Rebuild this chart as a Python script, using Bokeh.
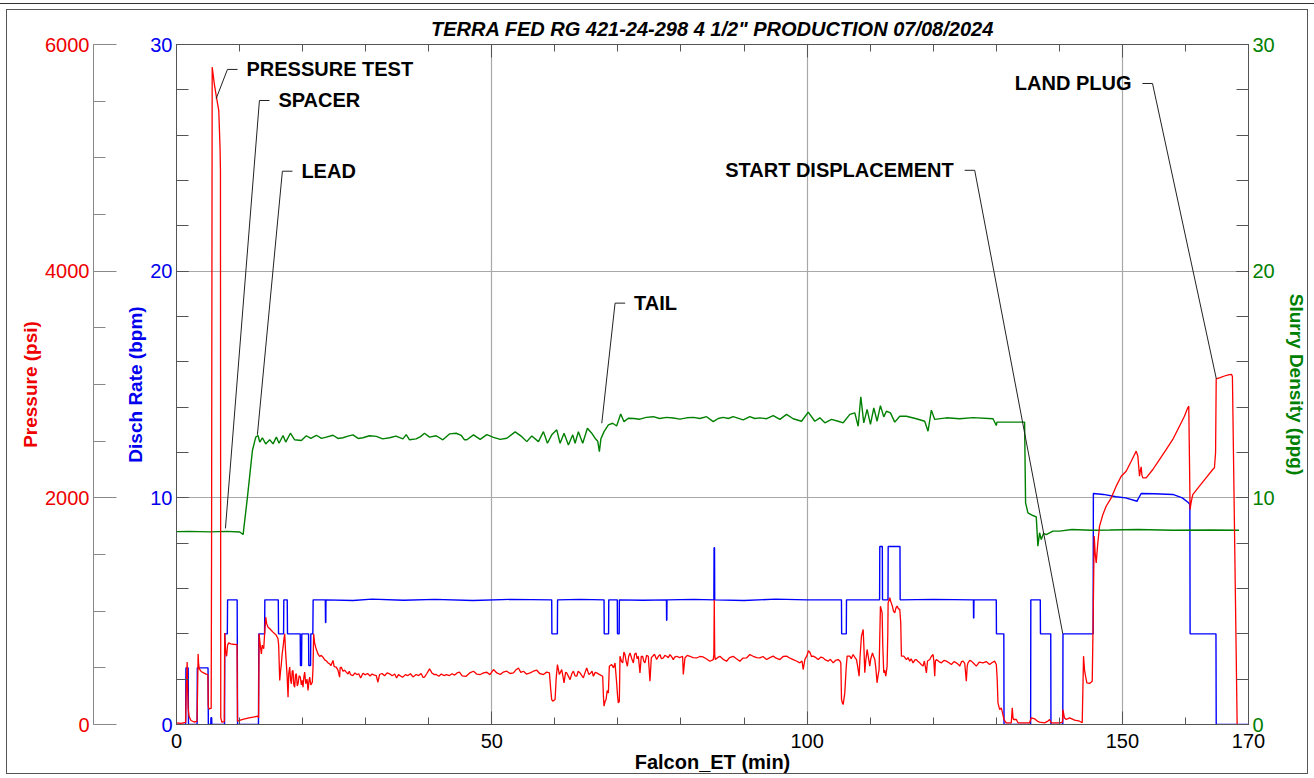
from bokeh.plotting import figure
from bokeh.models import LinearAxis, Range1d, FixedTicker
from bokeh.core.properties import value
from bokeh.embed import file_html
from bokeh.resources import INLINE

FONT = "Liberation Sans"
RED = "#ee0000"
BLUE = "#0000ee"
GREEN = "#008000"

TITLE = 'TERRA FED RG 421-24-298 4 1/2" PRODUCTION 07/08/2024'

# ---------------- data ----------------
# Pressure (psi) vs Falcon_ET (min)
PRESSURE = [
    (0.0, 15), (0.7, 10), (1.45, 18), (1.55, 320), (1.69, 552), (1.76, 330), (1.85, 140), (2.0, 70),
    (2.3, 35), (2.8, 22), (3.25, 28), (3.33, 260), (3.43, 623), (3.5, 540), (3.62, 490), (3.9, 468),
    (4.3, 455), (4.7, 445), (4.98, 440), (5.04, 160), (5.15, 138), (5.5, 142), (5.56, 1500),
    (5.66, 5800), (6.0, 5650), (6.34, 5533), (6.7, 5419), (6.9, 5100), (6.97, 4890), (7.02, 60),
    (7.2, 20), (7.58, 25), (7.64, 808), (7.8, 640), (7.95, 602), (8.1, 700), (8.29, 720), (8.6, 712),
    (9.0, 708), (9.6, 705), (9.68, 29), (10.5, 45), (11.5, 58), (12.9, 73), (13.02, 60),
    (13.1, 800), (13.3, 690), (13.46, 623), (13.6, 700), (13.83, 668), (14.0, 820), (14.15, 947),
    (14.3, 890), (14.52, 859), (14.8, 845), (15.05, 829), (15.3, 815), (15.58, 800), (15.8, 790),
    (16.1, 756), (16.2, 700), (16.37, 388), (16.5, 470), (16.63, 535), (16.75, 620), (16.9, 682),
    (17.05, 760), (17.16, 800), (17.3, 640), (17.42, 535), (17.55, 420), (17.69, 241), (17.8, 450),
    (17.95, 506), (18.1, 390), (18.22, 359), (18.35, 470), (18.48, 476), (18.6, 350), (18.74, 329),
    (18.88, 440), (19.01, 447), (19.15, 340), (19.27, 359), (19.45, 430), (19.64, 418), (19.8, 350),
    (19.95, 390), (20.06, 329), (20.2, 420), (20.33, 462), (20.5, 360), (20.7, 400), (20.86, 300),
    (21.0, 380), (21.12, 418), (21.3, 350), (21.54, 373), (21.65, 500), (21.75, 800), (21.9, 720),
    (22.07, 682), (22.25, 650), (22.44, 623), (22.7, 600), (22.95, 610), (23.23, 594), (23.5, 570),
    (23.8, 560), (24.0, 545), (24.29, 535), (24.5, 520), (24.82, 565), (25.0, 510), (25.34, 506),
    (25.6, 480), (25.87, 418), (25.95, 500), (26.14, 506), (26.4, 470), (26.65, 480), (26.93, 462),
    (27.2, 445), (27.4, 470), (27.6, 440), (27.98, 432), (28.3, 455), (28.6, 440), (28.9, 448),
    (29.2, 410), (29.57, 453), (29.9, 438), (30.3, 450), (30.7, 428), (31.0, 445), (31.4, 436),
    (31.68, 432), (31.94, 373), (32.2, 441), (32.6, 450), (33.0, 430), (33.4, 455), (33.79, 447),
    (34.2, 430), (34.6, 445), (34.9, 410), (35.2, 440), (35.6, 425), (35.9, 418), (36.3, 440),
    (36.7, 432), (37.1, 448), (37.5, 420), (38.01, 441), (38.4, 432), (38.8, 450), (39.1, 415),
    (39.33, 418), (39.7, 450), (40.13, 491), (40.5, 455), (40.9, 440), (41.18, 441), (41.6, 425),
    (42.0, 445), (42.4, 432), (42.8, 440), (43.29, 432), (43.7, 448), (44.1, 436), (44.5, 455),
    (44.88, 462), (45.3, 430), (45.93, 424), (46.05, 432), (46.5, 455), (47.1, 470), (47.6, 445),
    (48.16, 441), (48.7, 455), (49.21, 461), (49.7, 440), (50.27, 485), (50.8, 455), (51.33, 441),
    (51.8, 462), (52.38, 470), (52.9, 450), (53.44, 455), (53.8, 480), (54.23, 499), (54.6, 460),
    (55.02, 470), (55.5, 445), (56.08, 455), (56.6, 470), (57.13, 479), (57.6, 450), (58.19, 441),
    (58.7, 462), (59.14, 455), (59.35, 308), (59.5, 220), (59.67, 206), (60.04, 220), (60.2, 400),
    (60.41, 529), (60.72, 441), (61.09, 485), (61.3, 420), (61.46, 367), (61.7, 460), (61.89, 455),
    (62.2, 420), (62.41, 396), (62.7, 450), (62.94, 470), (63.2, 430), (63.47, 426), (63.7, 470),
    (64.0, 455), (64.3, 430), (64.52, 411), (64.8, 460), (65.05, 499), (65.4, 440), (65.69, 455),
    (65.9, 470), (66.11, 426), (66.4, 460), (66.64, 455), (67.1, 440), (67.59, 426), (67.7, 250),
    (67.8, 162), (67.95, 200), (68.12, 220), (68.3, 300), (68.49, 279), (68.64, 514), (69.01, 529),
    (69.3, 500), (69.54, 543), (69.8, 367), (69.95, 250), (70.07, 191), (70.23, 206), (70.33, 602),
    (70.55, 560), (70.76, 543), (70.95, 640), (71.12, 617), (71.3, 560), (71.5, 514), (71.7, 600),
    (71.92, 631), (72.2, 580), (72.45, 543), (72.65, 620), (72.87, 631), (73.05, 580), (73.24, 602),
    (73.5, 455), (73.7, 600), (73.92, 602), (74.1, 560), (74.29, 543), (74.55, 610), (74.82, 602),
    (75.08, 382), (75.3, 590), (75.51, 602), (75.8, 620), (76.14, 573), (76.4, 600), (76.67, 617),
    (76.9, 580), (77.2, 587), (77.45, 610), (77.72, 602), (78.0, 590), (78.25, 617), (78.5, 600),
    (78.78, 573), (79.0, 595), (79.31, 602), (79.8, 590), (80.26, 602), (80.37, 441), (80.63, 587),
    (81.0, 610), (81.42, 602), (81.9, 590), (82.48, 587), (83.0, 600), (83.53, 596), (84.0, 580),
    (84.59, 558), (85.12, 573), (85.22, 620), (85.28, 1101), (85.35, 620), (85.43, 573), (85.8, 590),
    (86.17, 602), (86.7, 575), (87.23, 558), (87.7, 590), (88.28, 602), (88.8, 580), (89.34, 558),
    (89.8, 585), (90.4, 587), (90.92, 617), (91.45, 602), (92.0, 590), (92.52, 588), (93.0, 600),
    (93.58, 573), (94.1, 590), (94.63, 603), (95.1, 585), (95.69, 573), (96.2, 600), (96.74, 603),
    (97.3, 585), (97.8, 573), (98.3, 560), (98.86, 544), (99.2, 560), (99.38, 485), (99.65, 573),
    (100.0, 610), (100.2, 650), (100.44, 638), (100.7, 600), (100.97, 603), (101.4, 590),
    (101.76, 573), (102.2, 595), (102.55, 588), (102.9, 570), (103.34, 559), (103.7, 575),
    (104.14, 544), (104.5, 565), (104.93, 573), (105.2, 560), (105.35, 544), (105.46, 221),
    (105.6, 190), (105.72, 176), (105.98, 279), (106.2, 500), (106.35, 603), (106.78, 603),
    (107.0, 580), (107.3, 618), (107.6, 590), (107.83, 573), (108.0, 520), (108.25, 426),
    (108.4, 600), (108.62, 779), (108.89, 838), (109.0, 700), (109.15, 456), (109.3, 560),
    (109.52, 662), (109.7, 600), (109.94, 515), (110.1, 580), (110.37, 632), (110.55, 600),
    (110.74, 573), (110.9, 500), (111.1, 368), (111.25, 430), (111.42, 485), (111.5, 700),
    (111.63, 1044), (111.9, 985), (112.0, 700), (112.16, 456), (112.3, 480), (112.48, 426),
    (112.69, 515), (112.8, 800), (112.85, 1073), (113.11, 1118), (113.3, 1080), (113.53, 1044),
    (113.7, 1000), (113.9, 985), (114.1, 1030), (114.27, 1044), (114.5, 1020), (114.7, 1015),
    (114.85, 900), (114.96, 603), (115.33, 603), (115.75, 573), (116.0, 590), (116.28, 559),
    (116.5, 580), (116.81, 544), (117.1, 570), (117.33, 573), (117.6, 555), (117.86, 544),
    (118.1, 530), (118.39, 515), (118.6, 560), (118.92, 456), (119.1, 560), (119.45, 573),
    (119.7, 600), (119.98, 618), (120.1, 560), (120.24, 426), (120.35, 560), (120.5, 573),
    (120.9, 555), (121.3, 544), (121.7, 565), (122.09, 559), (122.5, 545), (122.88, 529),
    (123.3, 555), (123.67, 544), (124.0, 530), (124.2, 515), (124.5, 555), (124.73, 559),
    (125.0, 540), (125.25, 382), (125.4, 520), (125.52, 544), (125.8, 565), (126.05, 559),
    (126.4, 540), (126.84, 515), (127.3, 550), (127.9, 544), (128.4, 555), (128.95, 529),
    (129.3, 545), (129.74, 559), (130.01, 529), (130.15, 400), (130.27, 191), (130.54, 132),
    (130.8, 147), (131.0, 100), (131.22, 44), (131.59, 15), (132.38, 15), (132.54, 147),
    (132.65, 60), (132.75, 44), (133.18, 44), (133.44, 15), (135.29, 15), (135.55, 59),
    (136.08, 50), (136.5, 30), (136.87, 21), (137.66, 15), (138.2, 30), (138.45, 44), (138.72, 15),
    (140.04, 15), (140.5, 20), (140.57, 132), (140.8, 60), (141.1, 44), (141.63, 59), (142.42, 38),
    (143.21, 29), (143.63, 15), (143.84, 603), (144.0, 480), (144.16, 426), (144.37, 368),
    (144.8, 362), (145.22, 382), (145.38, 985), (145.53, 1662), (145.7, 1500), (145.85, 1426),
    (146.1, 1600), (146.38, 1750), (146.91, 1853), (147.43, 1926), (148.23, 2000), (149.02, 2103),
    (149.81, 2191), (150.6, 2235), (151.4, 2323), (152.19, 2412), (152.45, 2368), (152.72, 2191),
    (152.85, 2240), (152.98, 2273), (153.1, 2200), (153.24, 2176), (153.77, 2176), (154.83, 2250),
    (155.88, 2338), (156.94, 2426), (157.99, 2515), (159.05, 2632), (159.84, 2720), (160.37, 2794),
    (160.53, 2809), (160.74, 1897), (160.9, 1960), (161.16, 2029), (162.22, 2103), (163.27, 2176),
    (164.33, 2250), (164.6, 2265), (164.78, 2400), (164.88, 3050), (165.5, 3060), (166.2, 3075),
    (166.8, 3085), (167.3, 3090), (167.45, 3070), (168.2, 0),
]

# Disch Rate (bpm) vs Falcon_ET (min)
RATE = [
    (0, 0), (1.45, 0), (1.5, 2.5), (1.85, 2.5), (1.9, 0), (3.27, 0), (3.3, 2.5), (5.0, 2.5), (5.05, 0),
    (5.44, 0), (5.46, 0.3), (5.58, 0.3), (5.6, 0), (7.62, 0), (7.66, 4.0), (8.06, 4.0), (8.1, 5.5),
    (9.62, 5.5), (9.68, 0), (13.0, 0), (13.06, 4.0), (13.97, 4.0), (14.01, 5.5), (16.14, 5.5),
    (16.18, 4.0), (16.98, 4.0), (17.02, 5.5), (17.56, 5.5), (17.6, 4.0), (19.62, 4.0), (19.66, 2.6),
    (19.83, 2.6), (19.87, 4.0), (20.94, 4.0), (20.98, 2.6), (21.26, 2.6), (21.3, 4.0), (21.62, 4.0),
    (21.67, 5.5), (23.6, 5.5), (23.63, 4.5), (23.68, 4.5), (23.7, 5.5), (28.0, 5.47), (31.0, 5.53),
    (36.0, 5.48), (41.0, 5.52), (47.0, 5.47), (53.0, 5.52), (59.5, 5.5), (59.53, 4.0), (60.4, 4.0),
    (60.43, 5.5), (64.0, 5.52), (67.8, 5.5), (67.83, 4.0), (68.52, 4.0), (68.55, 5.5), (69.9, 5.5),
    (69.93, 4.0), (70.2, 4.0), (70.23, 5.5), (74.0, 5.48), (77.7, 5.5), (77.72, 4.6), (77.76, 4.6),
    (77.78, 5.5), (82.0, 5.52), (85.22, 5.5), (85.25, 7.8), (85.32, 7.8), (85.35, 5.5), (90.0, 5.47),
    (95.0, 5.53), (100.0, 5.5), (105.45, 5.5), (105.48, 4.0), (106.22, 4.0), (106.25, 5.5),
    (111.5, 5.5), (111.53, 7.85), (111.93, 7.85), (111.96, 5.5), (112.83, 5.5), (112.86, 7.85),
    (114.73, 7.85), (114.76, 5.5), (120.0, 5.52), (126.38, 5.5), (126.4, 4.7), (126.44, 4.7),
    (126.46, 5.5), (130.0, 5.5), (130.03, 4.0), (131.2, 4.0), (131.23, 0), (135.45, 0),
    (135.48, 5.5), (136.98, 5.5), (137.01, 4.0), (138.64, 4.0), (138.67, 0), (140.55, 0),
    (140.58, 4.0), (145.36, 4.0), (145.4, 10.19), (147.0, 10.15), (149.0, 10.05), (150.5, 10.0),
    (152.35, 9.85), (152.4, 9.9), (152.98, 10.19), (155.0, 10.18), (158.0, 10.15), (159.5, 10.0),
    (160.5, 9.78), (160.7, 9.7), (160.74, 4.0), (164.84, 4.0), (164.88, 0), (170.0, 0),
]

# Slurry Density (ppg) vs Falcon_ET (min)
DENSITY = [
    (0, 8.51), (2, 8.52), (5.28, 8.5), (8, 8.52), (10.03, 8.49), (10.56, 8.38), (11.19, 9.88),
    (12.04, 12.09), (12.57, 12.68), (12.94, 12.75), (13.2, 12.46), (13.62, 12.65), (14.15, 12.38),
    (14.78, 12.56), (15.31, 12.38), (15.84, 12.68), (16.26, 12.41), (16.9, 12.75), (17.32, 12.46),
    (18.06, 12.85), (18.74, 12.56), (19.8, 12.53), (20.59, 12.74), (21.3, 12.62), (22.18, 12.76),
    (23.0, 12.62), (23.76, 12.68), (24.82, 12.76), (25.6, 12.62), (26.4, 12.65), (27.2, 12.72),
    (27.98, 12.78), (28.8, 12.62), (29.57, 12.65), (30.6, 12.74), (31.68, 12.71), (32.7, 12.6),
    (33.79, 12.65), (34.8, 12.72), (35.9, 12.6), (36.43, 12.79), (36.96, 12.56), (38.01, 12.6),
    (38.7, 12.7), (39.33, 12.85), (40.13, 12.68), (41.18, 12.74), (42.24, 12.56), (43.29, 12.82),
    (44.35, 12.85), (45.14, 12.76), (45.67, 12.56), (46.05, 12.56), (47.1, 12.78), (48.16, 12.58),
    (49.21, 12.79), (50.27, 12.67), (51.33, 12.58), (52.38, 12.63), (53.7, 12.91), (54.76, 12.7),
    (55.55, 12.48), (56.34, 12.73), (57.4, 12.48), (58.19, 12.92), (58.82, 12.41), (59.51, 12.78),
    (60.3, 13.0), (60.83, 12.41), (61.46, 12.85), (62.15, 12.33), (62.84, 12.78), (63.21, 12.41),
    (63.73, 12.92), (64.42, 12.41), (65.16, 13.07), (65.85, 12.85), (66.37, 12.63), (66.8, 12.5),
    (67.06, 12.04), (67.3, 12.6), (67.8, 12.92), (68.49, 13.22), (69.17, 13.29), (69.8, 13.17),
    (70.44, 13.7), (70.97, 13.36), (71.65, 13.51), (72.5, 13.5), (73.5, 13.47), (74.5, 13.55),
    (75.61, 13.58), (76.6, 13.5), (77.72, 13.55), (78.8, 13.52), (79.84, 13.47), (80.9, 13.53),
    (81.95, 13.55), (83.0, 13.5), (84.06, 13.58), (85.12, 13.36), (85.9, 13.5), (86.7, 13.55),
    (87.5, 13.5), (88.28, 13.58), (89.87, 13.44), (90.92, 13.58), (91.7, 13.5), (92.52, 13.53),
    (93.58, 13.49), (94.63, 13.63), (95.69, 13.46), (96.74, 13.68), (97.8, 13.49), (99.12, 13.38),
    (100.18, 13.78), (101.23, 13.38), (102.02, 13.53), (102.82, 13.31), (103.87, 13.46),
    (104.93, 13.38), (105.72, 13.31), (106.78, 13.68), (107.57, 13.75), (108.1, 13.16),
    (108.52, 14.46), (108.99, 13.31), (109.52, 13.9), (110.05, 13.24), (110.58, 13.97),
    (111.1, 13.38), (111.63, 14.07), (112.16, 13.57), (112.58, 13.82), (113.22, 13.75),
    (113.9, 13.34), (114.7, 13.6), (115.75, 13.6), (117.33, 13.49), (118.65, 13.38), (119.18, 12.94),
    (119.71, 13.87), (120.24, 13.46), (122.09, 13.53), (124.2, 13.49), (126.31, 13.54),
    (129.48, 13.49), (130.01, 13.19), (130.11, 13.34), (134.49, 13.34), (134.65, 9.78),
    (135.02, 9.34), (135.81, 9.22), (136.34, 9.16), (136.6, 7.87), (136.87, 8.46), (137.13, 8.16),
    (137.5, 8.43), (137.93, 8.38), (138.98, 8.53), (140.04, 8.53), (142.0, 8.6), (145.0, 8.57),
    (148.0, 8.58), (152.5, 8.6), (158.0, 8.57), (164.0, 8.58), (168.5, 8.57),
]

# event annotations: text, side, pivot (min, rate-axis units), target (min, rate-axis units)
ann_text = ["PRESSURE TEST", "SPACER", "LEAD", "TAIL", "START DISPLACEMENT", "LAND PLUG"]
ann_side = ["right", "right", "right", "right", "left", "left"]
ann_px = [8.08, 13.15, 16.79, 69.55, 126.58, 154.78]
ann_py = [28.9, 27.53, 24.41, 18.59, 24.45, 28.28]
ann_tx = [6.29, 7.76, 12.83, 67.44, 140.55, 164.9]
ann_ty = [27.61, 8.65, 12.78, 13.29, 4.0, 15.25]

x_ticks = [0, 50, 100, 150, 170]
x_minor = list(range(0, 171, 10))
rate_ticks = [0, 10, 20, 30]
rate_minor = list(range(0, 31, 2))
psi_ticks = [0, 2000, 4000, 6000]
psi_minor = list(range(0, 6001, 500))

# ---------------- figure ----------------
p = figure(width=1302, height=765, x_range=Range1d(0, 170), y_range=Range1d(0, 30),
           output_backend="svg", toolbar_location=None,
           min_border_left=169, min_border_right=60, min_border_top=34, min_border_bottom=50)
p.extra_y_ranges = {"psi": Range1d(0, 6000)}
p.background_fill_color = "white"
p.border_fill_color = "white"
p.outline_line_color = "#555555"
p.styles = {"border": "1px solid #555555", "margin-left": "6px", "margin-top": "9px",
            "box-shadow": "0 1px 0 6px white, 0 0 0 6px #333333"}

p.title.text = TITLE
p.title.align = "center"
p.title.offset = 2
p.title.text_font = FONT
p.title.text_font_size = "20px"
p.title.text_font_style = "bold italic"
p.title.text_color = "black"
p.title.standoff = 9

# grid
p.xgrid.ticker = FixedTicker(ticks=[50, 100, 150])
p.ygrid.ticker = FixedTicker(ticks=[10, 20])
for g in (p.xgrid[0], p.ygrid[0]):
    g.grid_line_color = "#a8a8a8"
    g.grid_line_width = 1.2

AX = "#555555"

def style_axis(ax, ticks, minor, color, minor_len):
    ax.ticker = FixedTicker(ticks=ticks, minor_ticks=minor)
    ax.axis_line_color = AX
    ax.major_tick_line_color = AX
    ax.minor_tick_line_color = AX
    ax.major_tick_out = 0
    ax.minor_tick_out = 0
    ax.minor_tick_in = minor_len
    ax.major_label_text_font = FONT
    ax.major_label_text_font_size = "20px"
    ax.major_label_text_color = color
    ax.axis_label_text_font = FONT
    ax.axis_label_text_font_size = "19px"
    ax.axis_label_text_font_style = "bold"
    ax.axis_label_text_color = color

# bottom x axis
xa = p.xaxis[0]
style_axis(xa, x_ticks, x_minor, "black", 7)
xa.major_tick_in = 13
xa.major_label_standoff = 9
xa.axis_label = "Falcon_ET (min)"
xa.axis_label_standoff = 0
xa.axis_label_text_font_size = "20px"

# top x axis (ticks only)
top = LinearAxis()
style_axis(top, x_ticks, x_minor, None, 7)
top.major_tick_in = 13
top.major_label_text_font_size = "0px"
top.major_label_standoff = 0
p.add_layout(top, "above")

# left rate axis (blue)
ya = p.yaxis[0]
style_axis(ya, rate_ticks, rate_minor, BLUE, 12)
ya.major_tick_in = 12
ya.major_label_standoff = 4
ya.axis_label = "Disch Rate (bpm)"
ya.axis_label_standoff = 1

# spacer between the rate axis and the pressure axis (one invisible white tick)
spacer = LinearAxis(ticker=FixedTicker(ticks=[16.25], minor_ticks=[]))
spacer.axis_line_color = None
spacer.major_tick_line_color = "white"
spacer.minor_tick_line_color = None
spacer.major_tick_out = 29
spacer.major_tick_in = 0
spacer.major_label_standoff = 0
spacer.major_label_text_font_size = "0px"
spacer.major_label_text_color = None
p.add_layout(spacer, "left")

# pressure axis (red)
pa = LinearAxis(y_range_name="psi")
style_axis(pa, psi_ticks, psi_minor, RED, 12)
pa.axis_line_color = "#888888"
pa.major_tick_line_color = "#888888"
pa.minor_tick_line_color = "#888888"
pa.major_tick_in = 23
pa.major_label_standoff = 4
pa.axis_label = "Pressure (psi)"
pa.axis_label_standoff = 1
p.add_layout(pa, "left")

# right density axis (green) with its own label
ra = LinearAxis()
style_axis(ra, rate_ticks, rate_minor, GREEN, 12)
ra.major_tick_in = 12
ra.major_label_standoff = 4
ra.axis_label = "Slurry Density (ppg)"
ra.axis_label_standoff = 8
p.add_layout(ra, "right")

# ---------------- series ----------------
rt = [a for a, b in RATE]
rv = [b for a, b in RATE]
dt = [a for a, b in DENSITY]
dv = [b for a, b in DENSITY]
pt = [a for a, b in PRESSURE]
pv = [b for a, b in PRESSURE]

p.line(rt, rv, line_color="#0000ff", line_width=1.4)
p.line(dt, dv, line_color=GREEN, line_width=1.4)
p.line(pt, pv, line_color="#ff0000", line_width=1.3, y_range_name="psi")

# ---------------- annotations ----------------
STUB = 1.6  # minutes
for t, side, px_, py_, tx, ty in zip(ann_text, ann_side, ann_px, ann_py, ann_tx, ann_ty):
    sx = px_ + STUB if side == "right" else px_ - STUB
    p.segment(x0=[px_], y0=[py_], x1=[sx], y1=[py_], line_color="#222222", line_width=1)
    p.segment(x0=[px_], y0=[py_], x1=[tx], y1=[ty], line_color="#222222", line_width=1)
    p.text(x=[px_], y=[py_], text=[t], x_offset=19 if side == "right" else -21,
           text_align="left" if side == "right" else "right", text_baseline="middle",
           text_font=value(FONT), text_font_style="bold", text_font_size="20px",
           text_color="black")

open("out.html", "w").write(file_html(p, INLINE))
